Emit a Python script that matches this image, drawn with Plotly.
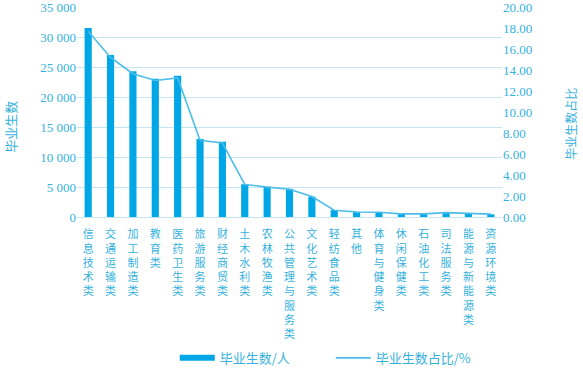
import plotly.graph_objects as go

categories = ["信息技术类", "交通运输类", "加工制造类", "教育类", "医药卫生类", "旅游服务类",
              "财经商贸类", "土木水利类", "农林牧渔类", "公共管理与服务类", "文化艺术类",
              "轻纺食品类", "其他", "体育与健身类", "休闲保健类", "石油化工类", "司法服务类",
              "能源与新能源类", "资源环境类"]
graduates = [31500, 27000, 24300, 23050, 23550, 13000, 12550, 5450, 5050, 4700, 3400,
             1150, 800, 750, 480, 480, 700, 550, 450]
share_pct = [17.70, 15.20, 13.65, 13.00, 13.25, 7.30, 7.05, 3.10, 2.85, 2.65, 1.95,
             0.65, 0.48, 0.45, 0.30, 0.30, 0.42, 0.33, 0.27]
left_ticks = [0, 5000, 10000, 15000, 20000, 25000, 30000, 35000]
right_ticks = [0, 2, 4, 6, 8, 10, 12, 14, 16, 18, 20]

TXT = "#35b1dd"
BAR = "#00a7e6"
LINE = "#4cbde8"
GRID = "#c4e5f4"
NUMFONT = "Liberation Serif, Noto Sans CJK SC"
CJK = "Noto Sans CJK SC"

ticktext = ["<br>".join(list(c)) for c in categories]

fig = go.Figure()
fig.add_trace(go.Bar(x=categories, y=graduates, name="毕业生数/人",
                     marker=dict(color=BAR, line=dict(width=0)), width=0.32,
                     yaxis="y", showlegend=False))
fig.add_trace(go.Scatter(x=categories, y=share_pct, name="毕业生数占比/%", mode="lines",
                         line=dict(color=LINE, width=1.6), yaxis="y2", showlegend=False))
# legend-only entries (wide bar swatch like the reference)
fig.add_trace(go.Scatter(x=[None], y=[None], name="毕业生数/人", mode="lines",
                         line=dict(color=BAR, width=6), yaxis="y"))
fig.add_trace(go.Scatter(x=[None], y=[None], name="毕业生数占比/%", mode="lines",
                         line=dict(color=LINE, width=1.6), yaxis="y2"))

fig.update_layout(
    width=583, height=370,
    margin=dict(l=77, r=81, t=7, b=153, autoexpand=False),
    plot_bgcolor="white", paper_bgcolor="white",
    separators=". ",
    showlegend=True,
    legend=dict(orientation="h", x=0.23, xanchor="left", y=-0.671, yanchor="middle",
                font=dict(family=CJK, size=13, color=TXT),
                itemwidth=35, traceorder="normal", entrywidthmode="pixels", entrywidth=106,
                bgcolor="rgba(0,0,0,0)"),
    xaxis=dict(type="category", range=[-0.5, len(categories) - 0.5],
               tickmode="array", tickvals=categories, ticktext=ticktext,
               tickangle=0, ticks="", showgrid=False, ticklabelstandoff=7,
               showline=True, linecolor=GRID, linewidth=1,
               tickfont=dict(family=NUMFONT, size=11, color=TXT)),
    yaxis=dict(range=[0, 35000], tickvals=left_ticks, tickformat=",d",
               showgrid=True, gridcolor=GRID, gridwidth=1, zeroline=False,
               ticklabeloverflow="allow",
               tickfont=dict(family=NUMFONT, size=13, color=TXT)),
    yaxis2=dict(range=[0, 20], tickvals=right_ticks, tickformat=".2f", overlaying="y",
                side="right", showgrid=False, zeroline=False,
                ticklabeloverflow="allow",
                tickfont=dict(family=NUMFONT, size=13, color=TXT)),
    annotations=[
        dict(text="毕业生数", xref="paper", yref="paper", x=-0.156, y=0.4286,
             xanchor="center", yanchor="middle", textangle=-90, showarrow=False,
             font=dict(family=CJK, size=13, color=TXT)),
        dict(text="毕业生数占比", xref="paper", yref="paper", x=1.162, y=0.443,
             xanchor="center", yanchor="middle", textangle=-90, showarrow=False,
             font=dict(family=CJK, size=12, color=TXT)),
    ],
)

fig.write_html("out.html", config={"displayModeBar": False},
               post_script="document.body.style.margin='0';")
